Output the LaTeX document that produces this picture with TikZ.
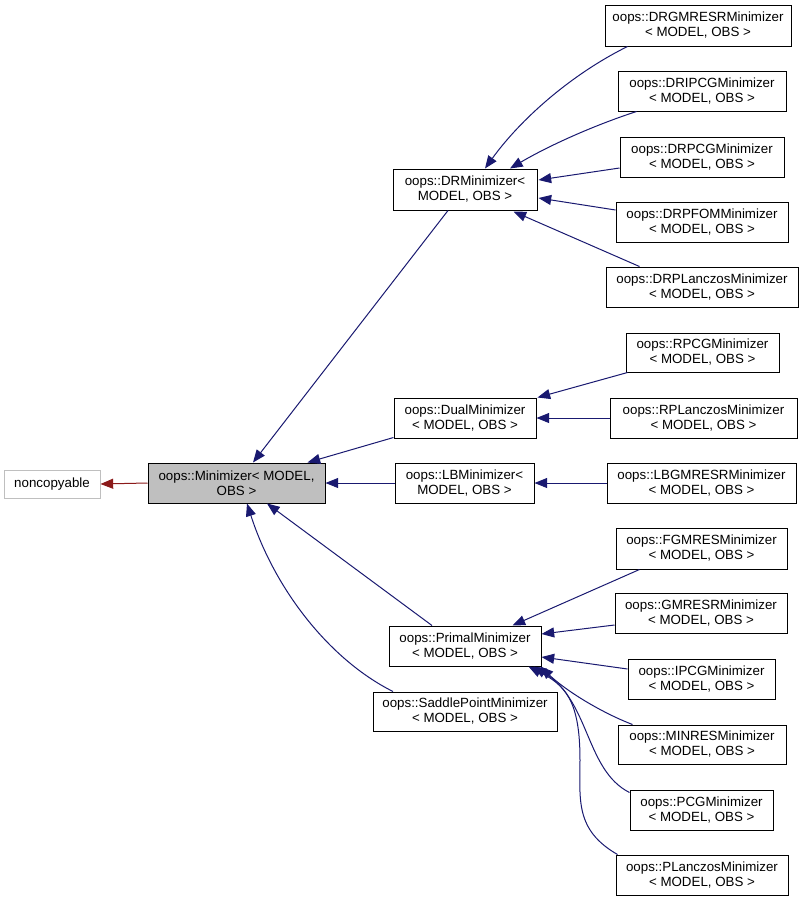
\documentclass[tikz,border=0pt]{standalone}
\usepackage{fontspec}
\setmainfont{Liberation Sans}
\usetikzlibrary{arrows.meta,calc}
\definecolor{edgeblue}{RGB}{25,25,112}
\definecolor{edgered}{RGB}{139,26,26}
\definecolor{boxgray}{RGB}{191,191,191}
\newcommand\cls[7]{\node[box,#6,minimum width={(#4-#2)*0.75pt},minimum height={(#5-#3)*0.75pt}] (#1) at ({(#2+#4)/2},{(#3+#5)/2}) {#7};}
\begin{document}
\begin{tikzpicture}[x=0.75pt,y=-0.75pt,
  box/.style={draw=black,line width=0.75pt,fill=white,inner sep=0pt,align=center,
    font=\fontsize{10}{11.25}\selectfont},
  inh/.style={draw=edgeblue,line width=0.75pt,-{Triangle[length=9.5pt,width=7.5pt]}},
  inhred/.style={draw=edgered,line width=0.75pt,-{Triangle[length=9.5pt,width=7.5pt]}}]
\useasboundingbox (0,0) rectangle (804,901);
\cls{nc}{4}{470}{100}{498}{draw=boxgray}{noncopyable}
\cls{min}{148}{463}{325}{503}{fill=boxgray}{oops::Minimizer< MODEL,\\OBS >}
\cls{dr}{393}{169}{537}{210}{}{oops::DRMinimizer<\\MODEL, OBS >}
\cls{drg}{605}{5}{791}{46}{}{oops::DRGMRESRMinimizer\\< MODEL, OBS >}
\cls{dri}{618}{71}{786}{111}{}{oops::DRIPCGMinimizer\\< MODEL, OBS >}
\cls{drp}{620}{137}{784}{177}{}{oops::DRPCGMinimizer\\< MODEL, OBS >}
\cls{drf}{616}{202}{788}{242}{}{oops::DRPFOMMinimizer\\< MODEL, OBS >}
\cls{drl}{606}{267}{798}{307}{}{oops::DRPLanczosMinimizer\\< MODEL, OBS >}
\cls{rpcg}{626}{333}{779}{372}{}{oops::RPCGMinimizer\\< MODEL, OBS >}
\cls{dual}{394}{398}{536}{438}{}{oops::DualMinimizer\\< MODEL, OBS >}
\cls{rpl}{610}{398}{797}{438}{}{oops::RPLanczosMinimizer\\< MODEL, OBS >}
\cls{lb}{395}{463}{534}{503}{}{oops::LBMinimizer<\\MODEL, OBS >}
\cls{lbg}{607}{463}{796}{503}{}{oops::LBGMRESRMinimizer\\< MODEL, OBS >}
\cls{fg}{616}{528}{787}{569}{}{oops::FGMRESMinimizer\\< MODEL, OBS >}
\cls{gm}{615}{593}{787}{633}{}{oops::GMRESRMinimizer\\< MODEL, OBS >}
\cls{pr}{389}{626}{541}{666}{}{oops::PrimalMinimizer\\< MODEL, OBS >}
\cls{ip}{628}{659}{775}{699}{}{oops::IPCGMinimizer\\< MODEL, OBS >}
\cls{sp}{373}{692}{557}{731}{}{oops::SaddlePointMinimizer\\< MODEL, OBS >}
\cls{mr}{618}{725}{786}{764}{}{oops::MINRESMinimizer\\< MODEL, OBS >}
\cls{pcg}{630}{790}{773}{830}{}{oops::PCGMinimizer\\< MODEL, OBS >}
\cls{pl}{616}{855}{788}{895}{}{oops::PLanczosMinimizer\\< MODEL, OBS >}
% edges
\draw[inhred] (min.west) -- (nc.east);
\draw[inh] ($(dr.south)+(-17,0)$) -- ($(min.north)+(16.5,0)$);
\draw[inh] ($(dual.south west)+(0,-1)$) -- ($(min.north east)+(-18,0)$);
\draw[inh] (lb.west) -- (min.east);
\draw[inh] ($(pr.north)+(-33,0)$) -- ($(min.south)+(30.5,0)$);
\draw[inh] ($(sp.north)+(-72,0)$) .. controls (330,660) and (275,590) .. ($(min.south)+(10.5,0)$);
\draw[inh] ($(drg.south west)+(23,0)$) .. controls (570,75) and (520,120) .. ($(dr.north)+(20,0)$);
\draw[inh] ($(dri.south west)+(19,0)$) .. controls (595,125) and (550,145) .. ($(dr.north)+(45,0)$);
\draw[inh] ($(drp.west)+(0,11)$) -- ($(dr.east)+(1,-9.5)$);
\draw[inh] ($(drf.west)+(0,-12)$) -- ($(dr.east)+(1,8.5)$);
\draw[inh] ($(drl.north west)+(34,0)$) -- ($(dr.south east)+(-24,1)$);
\draw[inh] ($(rpcg.south west)+(2,0)$) -- ($(dual.north east)+(1,0)$);
\draw[inh] (rpl.west) -- (dual.east);
\draw[inh] (lbg.west) -- (lb.east);
\draw[inh] ($(fg.south west)+(24,0)$) -- ($(pr.north east)+(-29,0)$);
\draw[inh] ($(gm.west)+(0,12)$) -- ($(pr.east)+(0,-12)$);
\draw[inh] ($(ip.west)+(0,-10)$) -- ($(pr.east)+(0,11)$);
\draw[inh] ($(mr.north west)+(15,0)$) .. controls (600,712) and (565,690) .. ($(pr.south east)+(-1,0)$);
\draw[inh] ($(pcg.north west)+(0,3)$) .. controls (585,770) and (590,700) .. ($(pr.south east)+(-8,0)$);
\draw[inh] ($(pl.north west)+(2,0)$) .. controls (575,830) and (580,800) .. (580,760) .. controls (580,700) and (565,685) .. ($(pr.south east)+(-13,0)$);
\end{tikzpicture}
\end{document}
